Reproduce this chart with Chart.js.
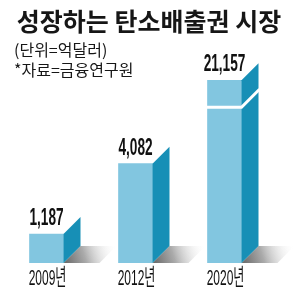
<!DOCTYPE html>
<html>
<head>
<meta charset="utf-8">
<script src="https://cdn.jsdelivr.net/npm/chart.js@4/dist/chart.umd.min.js"></script>
<style>
  html, body { margin: 0; padding: 0; background: #fff; }
</style>
</head>
<body>
<canvas id="chart_canvas" width="300" height="299"></canvas>
<script>
// chart data
var years = ['2009년', '2012년', '2020년'];
var amounts = [1187, 4082, 21157];
var amountLabels = ['1,187', '4,082', '21,157'];
var titleText = '성장하는 탄소배출권 시장';
var noteLines = ['(단위=억달러)', '*자료=금융연구원'];

// broken axis: linear up to breakValue, squeezed above it
var breakValue = 6400;
var squeezeRate = 0.0752;

function squash(v) {
	return v <= breakValue ? v : breakValue + (v - breakValue) * squeezeRate;
}
function unsquash(v) {
	return v <= breakValue ? v : breakValue + (v - breakValue) / squeezeRate;
}

class BrokenLinearScale extends Chart.LinearScale {
	getPixelForValue(value) {
		return super.getPixelForValue(squash(value));
	}
	getValueForPixel(pixel) {
		return unsquash(super.getValueForPixel(pixel));
	}
}
BrokenLinearScale.id = 'brokenLinear';
BrokenLinearScale.defaults = Chart.LinearScale.defaults;
Chart.register(BrokenLinearScale);

var FRONT = '#82c6e0';
var SIDE = '#178fb6';
var DEPTH = 17;
var latinFont = "'Liberation Sans', 'Noto Sans CJK KR', sans-serif";
var krFont = "'Noto Sans CJK KR', 'Noto Sans', sans-serif";

// condensed, stretched text like the newspaper face
function tallText(ctx, text, x, y, sx, sy) {
	ctx.save();
	ctx.translate(x, y);
	ctx.scale(sx, sy);
	ctx.fillText(text, 0, 0);
	ctx.restore();
}

var boxes3d = {
	id: 'boxes3d',
	beforeDatasetsDraw: function(chart) {
		var ctx = chart.ctx;
		chart.getDatasetMeta(0).data.forEach(function(bar) {
			var xr = bar.x + bar.width / 2;
			var b = bar.base;
			var g = ctx.createLinearGradient(xr, b, xr + DEPTH + 36, b - DEPTH);
			g.addColorStop(0, '#666');
			g.addColorStop(0.4, '#ababab');
			g.addColorStop(1, 'rgba(255,255,255,0)');
			ctx.save();
			ctx.fillStyle = g;
			ctx.beginPath();
			ctx.moveTo(xr, b);
			ctx.lineTo(xr + DEPTH, b - DEPTH);
			ctx.lineTo(xr + DEPTH + 36, b - DEPTH);
			ctx.lineTo(xr + 36, b);
			ctx.closePath();
			ctx.fill();
			ctx.restore();
		});
	},
	afterDatasetsDraw: function(chart) {
		var ctx = chart.ctx;
		var yScale = chart.scales.y;
		var xScale = chart.scales.x;
		chart.getDatasetMeta(0).data.forEach(function(bar, i) {
			var xl = bar.x - bar.width / 2;
			var xr = bar.x + bar.width / 2;
			ctx.save();
			ctx.fillStyle = SIDE;
			ctx.beginPath();
			ctx.moveTo(xr, bar.y);
			ctx.lineTo(xr + DEPTH, bar.y - DEPTH);
			ctx.lineTo(xr + DEPTH, bar.base - DEPTH);
			ctx.lineTo(xr, bar.base);
			ctx.closePath();
			ctx.fill();

			// axis break mark
			if (amounts[i] > breakValue) {
				var yb = yScale.getPixelForValue(breakValue);
				ctx.strokeStyle = '#fff';
				ctx.lineWidth = 3;
				ctx.beginPath();
				ctx.moveTo(xl - 1, yb);
				ctx.lineTo(xr, yb);
				ctx.lineTo(xr + DEPTH + 1, yb - DEPTH - 1);
				ctx.stroke();
			}

			ctx.fillStyle = '#111';
			ctx.textAlign = 'center';
			ctx.textBaseline = 'alphabetic';
			// value label
			ctx.font = 'bold 21px ' + latinFont;
			tallText(ctx, amountLabels[i], bar.x, bar.y - 9, 0.65, 1.15);
			// category label
			ctx.font = '20px ' + latinFont;
			tallText(ctx, years[i], xScale.getPixelForValue(i) + 1, 285, 0.6, 1.12);
			ctx.restore();
		});
	},
	afterDraw: function(chart) {
		var ctx = chart.ctx;
		ctx.save();
		ctx.fillStyle = '#161616';
		ctx.textBaseline = 'middle';
		ctx.textAlign = 'center';
		ctx.font = 'bold 25px ' + krFont;
		ctx.fillText(titleText, 149, 21);
		ctx.textAlign = 'left';
		ctx.font = '16px ' + krFont;
		ctx.fillText(noteLines[0], 14, 50);
		ctx.fillText(noteLines[1], 14, 70);
		ctx.restore();
	}
};

var chart = new Chart(document.getElementById('chart_canvas').getContext('2d'), {
	type: 'bar',
	data: {
		labels: years,
		datasets: [{
			data: amounts,
			backgroundColor: FRONT,
			borderWidth: 0,
			barThickness: 34
		}]
	},
	options: {
		responsive: false,
		animation: false,
		layout: { padding: { left: 2, right: 31, top: 80, bottom: 36 } },
		plugins: {
			legend: { display: false },
			tooltip: { enabled: false }
		},
		scales: {
			x: {
				display: false
			},
			y: {
				type: 'brokenLinear',
				display: false,
				min: 0,
				max: 7520
			}
		}
	},
	plugins: [boxes3d]
});
</script>
</body>
</html>
